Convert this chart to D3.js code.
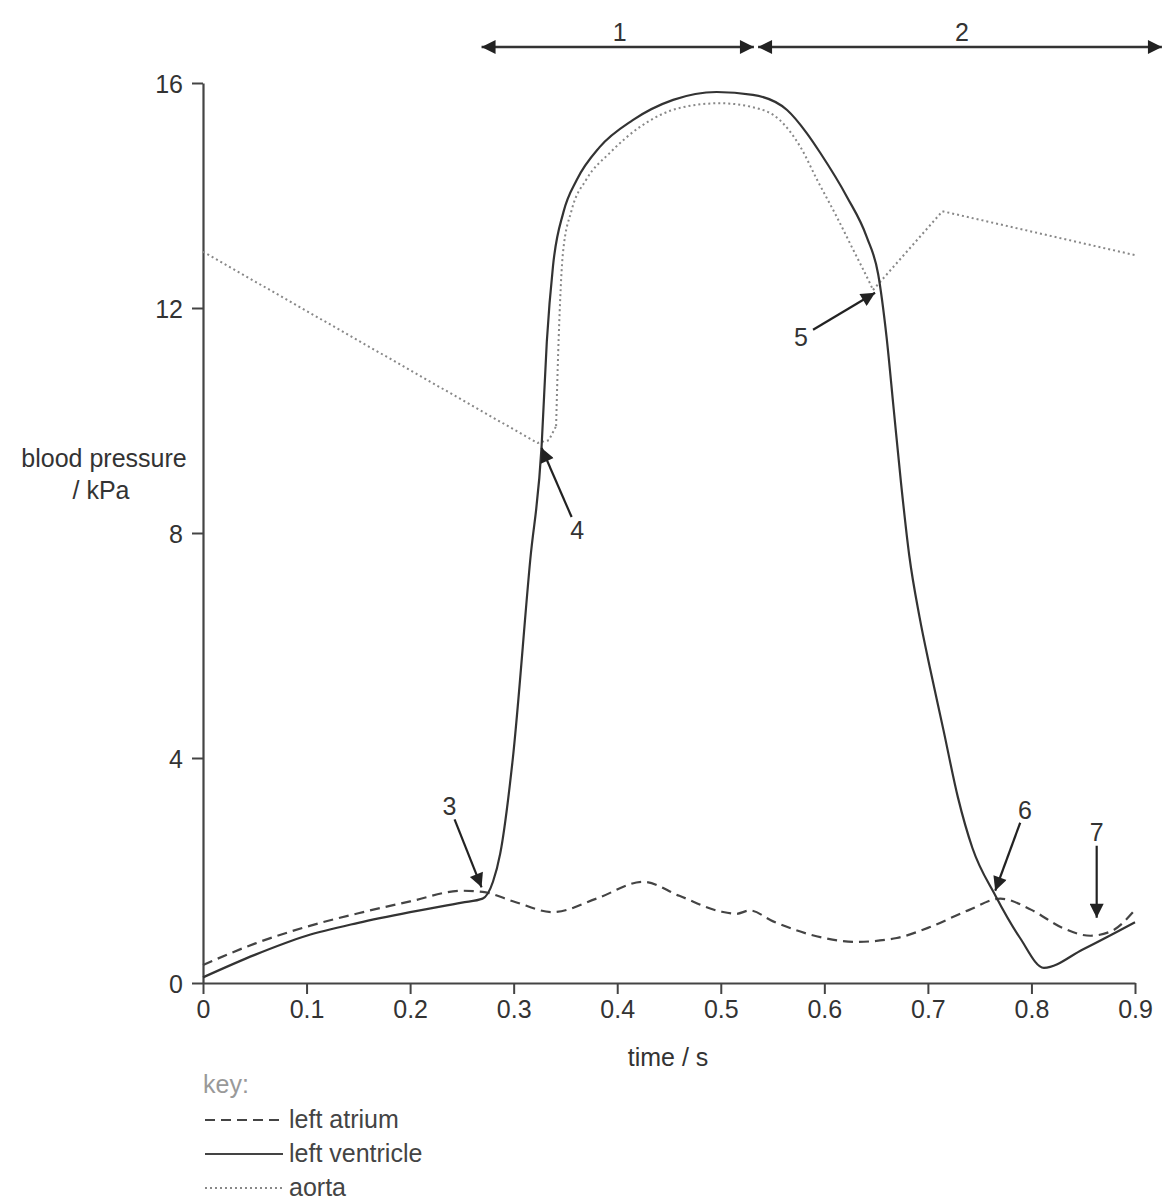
<!DOCTYPE html>
<html>
<head>
<meta charset="utf-8">
<script src="https://cdn.jsdelivr.net/npm/d3@7"></script>
<style>
  body { margin: 0; background: #fff; }
  svg { display: block; font-family: "Liberation Sans", Arial, sans-serif; }
</style>
</head>
<body>
<div id="chart"></div>
<script>
const width = 1162;
const height = 1201;
const margin = { top: 83, right: 27, bottom: 218, left: 203 };

// time (s), pressure (kPa)
const atrium = [
  [0, 0.32], [0.05, 0.7], [0.1, 1.0], [0.15, 1.24], [0.2, 1.45], [0.25, 1.64],
  [0.27, 1.62], [0.3, 1.45], [0.338, 1.26], [0.38, 1.5], [0.425, 1.8], [0.46, 1.55],
  [0.5, 1.27], [0.515, 1.23], [0.528, 1.29], [0.55, 1.1], [0.6, 0.8], [0.63, 0.73],
  [0.67, 0.8], [0.7, 0.98], [0.74, 1.3], [0.77, 1.5], [0.8, 1.3], [0.83, 0.98],
  [0.857, 0.84], [0.877, 0.92], [0.9, 1.3]
];

const ventricle = [
  [0, 0.1], [0.05, 0.5], [0.1, 0.84], [0.15, 1.07], [0.2, 1.26], [0.25, 1.43],
  [0.27, 1.5], [0.28, 1.8], [0.287, 2.3], [0.299, 3.96], [0.316, 7.52], [0.327, 9.55],
  [0.332, 11.4], [0.338, 12.75], [0.348, 13.7], [0.361, 14.28], [0.383, 14.86],
  [0.415, 15.34], [0.454, 15.7], [0.496, 15.84], [0.531, 15.79], [0.564, 15.52],
  [0.583, 15.11], [0.596, 14.76], [0.622, 13.97], [0.641, 13.26], [0.652, 12.6],
  [0.66, 11.5], [0.667, 10.2], [0.674, 8.9], [0.682, 7.6], [0.692, 6.5], [0.702, 5.6],
  [0.715, 4.5], [0.729, 3.3], [0.743, 2.4], [0.765, 1.56], [0.789, 0.8], [0.812, 0.27],
  [0.85, 0.6], [0.9, 1.08]
];

const aortaFall = [[0, 13.0], [0.323, 9.6], [0.334, 9.65], [0.341, 9.9]];
const aortaRise = [
  [0.341, 9.9], [0.342, 10.6], [0.344, 11.73], [0.3476, 12.98], [0.356, 13.74],
  [0.37, 14.28], [0.393, 14.76], [0.422, 15.22], [0.461, 15.56], [0.499, 15.64],
  [0.531, 15.57], [0.557, 15.34], [0.577, 14.86], [0.593, 14.28], [0.612, 13.62],
  [0.628, 13.03], [0.644, 12.44], [0.647, 12.32]
];
const aortaNotch = [[0.647, 12.32], [0.714, 13.72], [0.9, 12.94]];

const yTicks = [0, 4, 8, 12, 16];
const xTicks = [0, 0.1, 0.2, 0.3, 0.4, 0.5, 0.6, 0.7, 0.8, 0.9];
const xTickLabels = ["0", "0.1", "0.2", "0.3", "0.4", "0.5", "0.6", "0.7", "0.8", "0.9"];

// phase bars across the top: label, start, end (s)
const phases = [
  { label: "1", start: 0.269, end: 0.532 },
  { label: "2", start: 0.536, end: 0.926 }
];

// numbered pointers: tip in data units, tail offset in px
const pointers = [
  { label: "3", t: 0.269, p: 1.7, dx: -27, dy: -68 },
  { label: "4", t: 0.327, p: 9.51, dx: 30, dy: 69 },
  { label: "5", t: 0.649, p: 12.27, dx: -62, dy: 37 },
  { label: "6", t: 0.765, p: 1.64, dx: 25, dy: -68 },
  { label: "7", t: 0.863, p: 1.16, dx: 0, dy: -72 }
];

const legendItems = [
  { name: "left atrium", dash: "10,6", color: "#444" },
  { name: "left ventricle", dash: null, color: "#444" },
  { name: "aorta", dash: "2,3", color: "#888" }
];

const x = d3.scaleLinear().domain([0, 0.9]).range([margin.left, width - margin.right]);
const y = d3.scaleLinear().domain([0, 16]).range([height - margin.bottom, margin.top]);

const svg = d3.select("#chart").append("svg")
  .attr("width", width)
  .attr("height", height);

svg.append("defs").append("marker")
  .attr("id", "head")
  .attr("viewBox", "0 0 10 10")
  .attr("refX", 10).attr("refY", 5)
  .attr("markerWidth", 22).attr("markerHeight", 14)
  .attr("markerUnits", "userSpaceOnUse")
  .attr("orient", "auto-start-reverse")
  .append("path").attr("d", "M0,0 L10,5 L0,10 Z").attr("fill", "#222");

// axes
const yAxis = svg.append("g")
  .attr("transform", `translate(${x(0)},0)`)
  .call(d3.axisLeft(y).tickValues(yTicks).tickSize(11).tickSizeOuter(0).tickPadding(9));

const xAxis = svg.append("g")
  .attr("transform", `translate(0,${y(0)})`)
  .call(d3.axisBottom(x).tickValues(xTicks).tickSize(11).tickSizeOuter(0).tickPadding(6)
    .tickFormat((d, i) => xTickLabels[i]));

[yAxis, xAxis].forEach(g => {
  g.select(".domain").attr("stroke", "#444").attr("stroke-width", 2.2);
  g.selectAll(".tick line").attr("stroke", "#444").attr("stroke-width", 2);
  g.selectAll(".tick text").attr("fill", "#333").style("font-size", "25px")
    .style("font-family", "'Liberation Sans', Arial, sans-serif");
});
yAxis.selectAll(".tick text").attr("dy", "0.36em");

// axis titles
const yTitle = svg.append("text")
  .attr("text-anchor", "middle")
  .attr("fill", "#333")
  .style("font-size", "25px");
yTitle.append("tspan").attr("x", 104).attr("y", 467).text("blood pressure");
yTitle.append("tspan").attr("x", 101).attr("y", 499).text("/ kPa");

svg.append("text")
  .attr("x", 668).attr("y", 1066)
  .attr("text-anchor", "middle")
  .attr("fill", "#333")
  .style("font-size", "25px")
  .text("time / s");

// curves
const smooth = d3.line().x(d => x(d[0])).y(d => y(d[1])).curve(d3.curveMonotoneX);
const straight = d3.line().x(d => x(d[0])).y(d => y(d[1]));

const aortaStyle = sel => sel.attr("fill", "none").attr("stroke", "#888")
  .attr("stroke-width", 2).attr("stroke-dasharray", "2,3");

svg.append("path").datum(aortaFall).attr("d", straight).call(aortaStyle);
svg.append("path").datum(aortaRise).attr("d", smooth).call(aortaStyle);
svg.append("path").datum(aortaNotch).attr("d", straight).call(aortaStyle);

svg.append("path").datum(atrium).attr("d", smooth)
  .attr("fill", "none").attr("stroke", "#444").attr("stroke-width", 2.2)
  .attr("stroke-dasharray", "10,6");

svg.append("path").datum(ventricle).attr("d", smooth)
  .attr("fill", "none").attr("stroke", "#333").attr("stroke-width", 2.2);

// phase arrows
const barY = 47;
phases.forEach(ph => {
  svg.append("line")
    .attr("x1", x(ph.start)).attr("x2", x(ph.end))
    .attr("y1", barY).attr("y2", barY)
    .attr("stroke", "#333").attr("stroke-width", 2.5)
    .attr("marker-start", "url(#head)")
    .attr("marker-end", "url(#head)");
  svg.append("text")
    .attr("x", (x(ph.start) + Math.min(x(ph.end), width)) / 2 + 2)
    .attr("y", 41)
    .attr("text-anchor", "middle")
    .attr("fill", "#333")
    .style("font-size", "25px")
    .text(ph.label);
});

// numbered pointers
pointers.forEach(pt => {
  const tx = x(pt.t), ty = y(pt.p);
  const sx = tx + pt.dx, sy = ty + pt.dy;
  svg.append("line")
    .attr("x1", sx).attr("y1", sy).attr("x2", tx).attr("y2", ty)
    .attr("stroke", "#222").attr("stroke-width", 2.2)
    .attr("marker-end", "url(#head)");
  const len = Math.hypot(pt.dx, pt.dy);
  const lx = sx + pt.dx / len * 14;
  const ly = sy + pt.dy / len * 14;
  svg.append("text")
    .attr("x", lx).attr("y", ly)
    .attr("dy", "0.36em")
    .attr("text-anchor", "middle")
    .attr("fill", "#333")
    .style("font-size", "25px")
    .text(pt.label);
});

// key
svg.append("text")
  .attr("x", 203).attr("y", 1093)
  .attr("fill", "#999")
  .style("font-size", "25px")
  .text("key:");

const key = svg.append("g").attr("transform", "translate(205,1120)");
legendItems.forEach((d, i) => {
  const row = key.append("g").attr("transform", `translate(0,${i * 34})`);
  row.append("line")
    .attr("x1", 0).attr("x2", 78).attr("y1", 0).attr("y2", 0)
    .attr("stroke", d.color).attr("stroke-width", 2.2)
    .attr("stroke-dasharray", d.dash);
  row.append("text")
    .attr("x", 84).attr("y", 0).attr("dy", "0.3em")
    .attr("fill", "#444")
    .style("font-size", "25px")
    .text(d.name);
});
</script>
</body>
</html>
